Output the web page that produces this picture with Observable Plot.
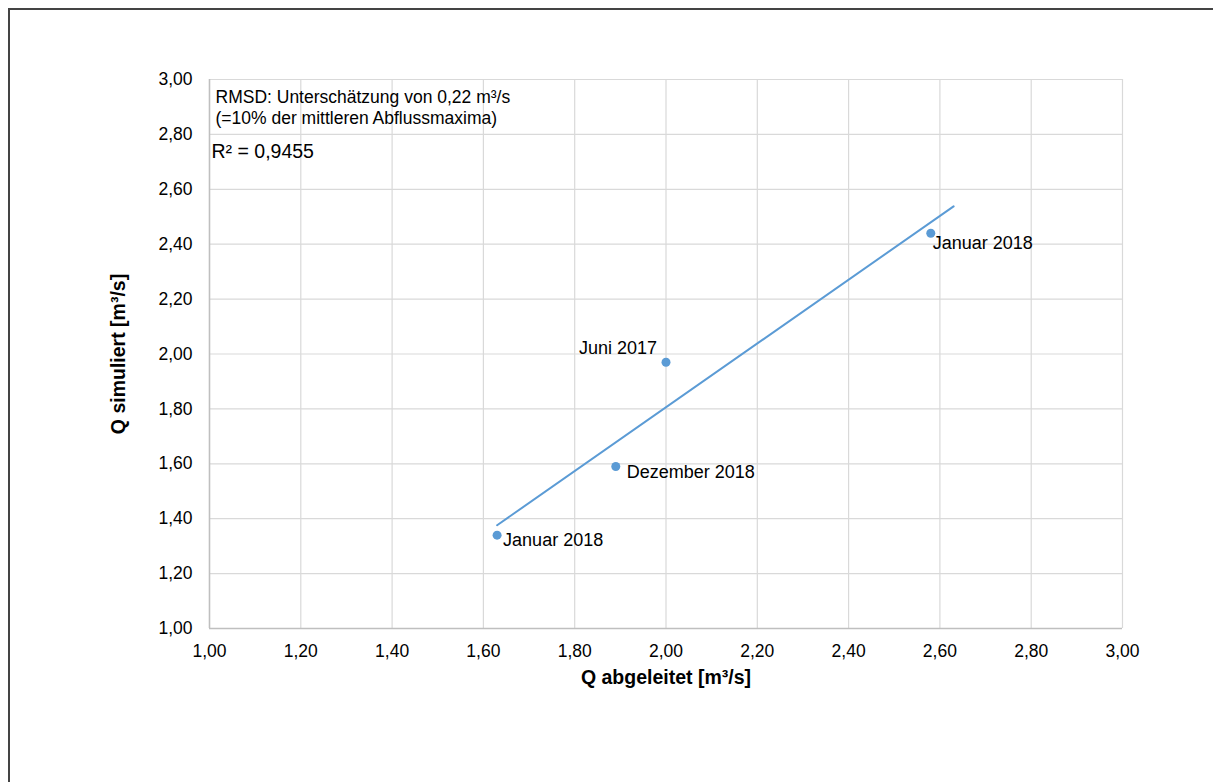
<!DOCTYPE html>
<html>
<head>
<meta charset="utf-8">
<script src="https://cdn.jsdelivr.net/npm/d3@7"></script>
<script src="https://cdn.jsdelivr.net/npm/@observablehq/plot@0.6"></script>
<style>
  html, body { margin: 0; padding: 0; background: #fff; overflow: hidden; }
  #wrap { position: relative; width: 1213px; height: 782px; }
  #frame { position: absolute; left: 8px; top: 8px; width: 1300px; height: 900px; border: 2px solid #444; box-sizing: border-box; }
  #chart { position: absolute; left: 0; top: 0; }
</style>
</head>
<body>
<div id="wrap"><div id="frame"></div><div id="chart"></div></div>
<script>
const qAbgeleitet = [1.63, 1.89, 2.00, 2.58];
const qSimuliert = [1.34, 1.59, 1.97, 2.44];
const pointLabels = ["Januar 2018", "Dezember 2018", "Juni 2017", "Januar 2018"];
const xTicks = [1.0, 1.2, 1.4, 1.6, 1.8, 2.0, 2.2, 2.4, 2.6, 2.8, 3.0];
const yTicks = [1.0, 1.2, 1.4, 1.6, 1.8, 2.0, 2.2, 2.4, 2.6, 2.8, 3.0];
const xTitle = "Q abgeleitet [m³/s]";
const yTitle = "Q simuliert [m³/s]";
const rmsdText = ["RMSD: Unterschätzung von 0,22 m³/s", "(=10% der mittleren Abflussmaxima)"];
const r2Text = "R² = 0,9455";
const trendForward = 0.05;

const data = qAbgeleitet.map((x, i) => ({x, y: qSimuliert[i], label: pointLabels[i], i}));

// linear regression (Excel trendline)
const mx = d3.mean(qAbgeleitet), my = d3.mean(qSimuliert);
const sxy = d3.sum(data, d => (d.x - mx) * (d.y - my));
const sxx = d3.sum(data, d => (d.x - mx) ** 2);
const slope = sxy / sxx, intercept = my - slope * mx;
const tx0 = d3.min(qAbgeleitet), tx1 = d3.max(qAbgeleitet) + trendForward;
const trend = [tx0, tx1].map(x => ({x, y: intercept + slope * x}));

const fmt = v => d3.format(".2f")(v).replace(".", ",");
const blue = "#5b9bd5";
const labelOffsets = [
  {dx: 6, dy: 5, anchor: "start"},
  {dx: 11, dy: 6, anchor: "start"},
  {dx: -9, dy: -14, anchor: "end"},
  {dx: 2, dy: 10, anchor: "start"}
];

const chart = Plot.plot({
  width: 1213,
  height: 782,
  marginLeft: 209,
  marginRight: 91,
  marginTop: 79,
  marginBottom: 154,
  style: {fontFamily: "'Liberation Sans', Arial, sans-serif", fontSize: "17.5px", color: "#000", background: "transparent"},
  x: {domain: [1, 3], ticks: xTicks, tickFormat: fmt, tickSize: 0, tickPadding: 16, label: null},
  y: {domain: [1, 3], ticks: yTicks, tickFormat: fmt, tickSize: 0, tickPadding: 17, label: null},
  marks: [
    Plot.gridX(xTicks, {stroke: "#d9d9d9", strokeOpacity: 1, strokeWidth: 1.2}),
    Plot.gridY(yTicks, {stroke: "#d9d9d9", strokeOpacity: 1, strokeWidth: 1.2}),
    Plot.ruleX([1], {stroke: "#bfbfbf", strokeWidth: 1.5}),
    Plot.ruleY([1], {stroke: "#bfbfbf", strokeWidth: 1.5}),
    Plot.axisX({ticks: xTicks, tickFormat: fmt, tickSize: 0, tickPadding: 16, label: null, fontSize: 17.5}),
    Plot.axisY({ticks: yTicks, tickFormat: fmt, tickSize: 0, tickPadding: 17, label: null, fontSize: 17.5}),
    Plot.line(trend, {x: "x", y: "y", stroke: blue, strokeWidth: 2}),
    Plot.dot(data, {x: "x", y: "y", r: 4.5, fill: blue, stroke: "none"}),
    ...labelOffsets.map((o, k) => Plot.text(data.filter(d => d.i === k), {
      x: "x", y: "y", text: "label", dx: o.dx, dy: o.dy, textAnchor: o.anchor, fontSize: 18, fill: "#000"
    })),
    Plot.text([rmsdText.join("\n")], {frameAnchor: "top-left", dx: 6, dy: 9, lineHeight: 1.2, fontSize: 17.5, fill: "#000"}),
    Plot.text([r2Text], {frameAnchor: "top-left", dx: 2, dy: 65, fontSize: 19.5, fill: "#000"}),
    Plot.text([xTitle], {frameAnchor: "bottom", dy: 49, lineAnchor: "middle", fontWeight: "bold", fontSize: 19.5, fill: "#000"}),
    Plot.text([yTitle], {frameAnchor: "left", dx: -91, rotate: -90, textAnchor: "middle", lineAnchor: "middle", fontWeight: "bold", fontSize: 19.5, fill: "#000"})
  ]
});
document.getElementById("chart").appendChild(chart);
</script>
</body>
</html>
